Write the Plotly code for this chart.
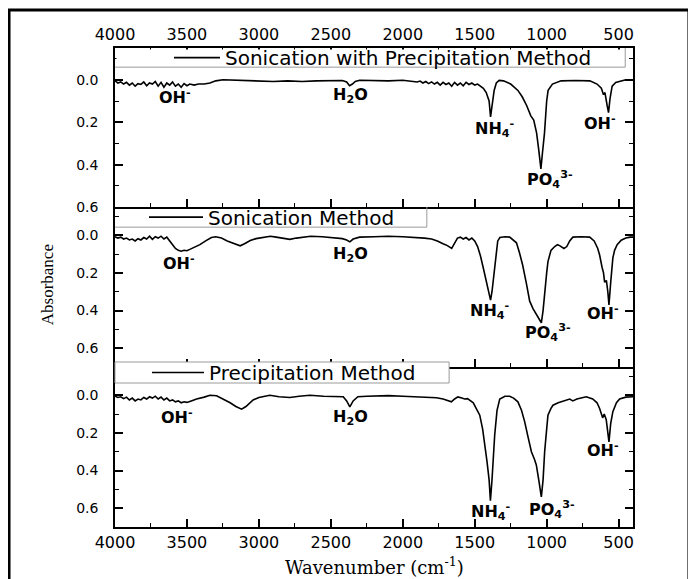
import plotly.graph_objects as go
from plotly.subplots import make_subplots

# ---------------- data ----------------
wn_sp = [4000, 3980, 3960, 3940, 3920, 3900, 3880, 3860, 3840, 3820, 3800, 3780, 3760, 3740, 3720, 3700,
         3680, 3660, 3640, 3620, 3600, 3580, 3560, 3540, 3520, 3500, 3480, 3450, 3420, 3380, 3340, 3300,
         3250, 3150, 3000, 2900, 2800, 2700, 2600, 2500, 2420, 2390, 2370, 2350, 2330, 2300, 2200, 2100,
         2000, 1950, 1900, 1880, 1860, 1840, 1820, 1800, 1780, 1760, 1740, 1720, 1700, 1680, 1660, 1640,
         1620, 1600, 1580, 1560, 1540, 1520, 1500, 1480, 1460, 1440, 1420, 1400, 1390, 1380, 1365, 1350,
         1330, 1300, 1250, 1200, 1170, 1140, 1110, 1090, 1070, 1055, 1040, 1030, 1015, 1000, 990, 960,
         930, 900, 800, 700, 650, 620, 605, 595, 580, 570, 560, 545, 520, 480, 450, 400]
abs_sp = [0.005, 0.015, 0.010, 0.020, 0.012, 0.025, 0.015, 0.030, 0.018, 0.022, 0.010, 0.028, 0.015, 0.020, 0.008, 0.030,
          0.012, 0.035, 0.015, 0.025, 0.010, 0.030, 0.020, 0.035, 0.018, 0.028, 0.020, 0.025, 0.020, 0.020, 0.015, 0.005,
          0.000, 0.002, 0.005, 0.008, 0.005, 0.008, 0.005, 0.002, 0.003, 0.010, 0.028, 0.020, 0.008, 0.002, 0.003, 0.005,
          0.002, 0.005, 0.010, 0.006, 0.015, 0.008, 0.018, 0.010, 0.020, 0.012, 0.025, 0.012, 0.022, 0.015, 0.030, 0.012,
          0.025, 0.015, 0.028, 0.012, 0.022, 0.015, 0.025, 0.020, 0.030, 0.040, 0.060, 0.100, 0.175, 0.120, 0.050, 0.015,
          0.003, 0.005, 0.020, 0.050, 0.080, 0.120, 0.170, 0.190, 0.250, 0.330, 0.420, 0.350, 0.250, 0.100, 0.050, 0.020,
          0.012, 0.005, 0.003, 0.005, 0.020, 0.040, 0.070, 0.060, 0.120, 0.155, 0.090, 0.030, 0.012, 0.005, 0.000, 0.000]

wn_s = [4000, 3980, 3960, 3940, 3920, 3900, 3880, 3860, 3840, 3820, 3800, 3780, 3760, 3740, 3720, 3700,
        3680, 3660, 3640, 3620, 3600, 3580, 3560, 3540, 3520, 3500, 3480, 3450, 3410, 3370, 3330, 3300,
        3260, 3220, 3170, 3130, 3100, 3060, 3020, 2960, 2920, 2880, 2830, 2785, 2740, 2690, 2640, 2560,
        2480, 2420, 2390, 2368, 2345, 2300, 2200, 2100, 2000, 1900, 1850, 1800, 1760, 1720, 1690, 1660,
        1640, 1620, 1600, 1580, 1560, 1540, 1520, 1500, 1480, 1460, 1440, 1420, 1400, 1390, 1380, 1370,
        1355, 1340, 1325, 1290, 1257, 1230, 1210, 1190, 1167, 1140, 1118, 1095, 1072, 1050, 1037, 1025,
        1014, 1000, 991, 970, 944, 925, 910, 880, 860, 840, 818, 760, 701, 670, 645, 632,
        615, 605, 597, 585, 575, 567, 555, 540, 528, 510, 482, 450, 420, 400]
abs_s = [0.008, 0.015, 0.010, 0.020, 0.015, 0.025, 0.020, 0.030, 0.018, 0.025, 0.012, 0.020, 0.005, 0.022, 0.008, 0.015,
         0.005, 0.020, 0.010, 0.030, 0.050, 0.070, 0.080, 0.085, 0.080, 0.082, 0.075, 0.065, 0.050, 0.030, 0.012, 0.008,
         0.015, 0.030, 0.045, 0.056, 0.045, 0.028, 0.018, 0.010, 0.005, 0.010, 0.018, 0.022, 0.015, 0.008, 0.005, 0.008,
         0.012, 0.018, 0.025, 0.035, 0.020, 0.010, 0.008, 0.005, 0.008, 0.010, 0.015, 0.020, 0.030, 0.045, 0.055, 0.070,
         0.040, 0.015, 0.010, 0.020, 0.012, 0.025, 0.015, 0.030, 0.060, 0.110, 0.175, 0.250, 0.320, 0.345, 0.300, 0.230,
         0.100, 0.030, 0.012, 0.008, 0.010, 0.025, 0.040, 0.090, 0.158, 0.260, 0.350, 0.390, 0.420, 0.450, 0.465, 0.400,
         0.300, 0.200, 0.140, 0.080, 0.060, 0.050, 0.055, 0.070, 0.060, 0.030, 0.010, 0.008, 0.010, 0.030, 0.070, 0.105,
         0.170, 0.200, 0.250, 0.240, 0.300, 0.370, 0.250, 0.120, 0.080, 0.050, 0.026, 0.015, 0.010, 0.010]

wn_p = [4000, 3980, 3960, 3940, 3920, 3900, 3880, 3860, 3840, 3820, 3800, 3780, 3760, 3740, 3720, 3700,
        3680, 3660, 3640, 3620, 3600, 3580, 3560, 3540, 3520, 3500, 3470, 3433, 3380, 3340, 3294, 3250,
        3200, 3160, 3120, 3090, 3060, 3040, 3000, 2950, 2924, 2860, 2785, 2720, 2646, 2550, 2450, 2414,
        2390, 2368, 2345, 2312, 2250, 2100, 2000, 1900, 1850, 1800, 1766, 1720, 1690, 1662, 1640, 1617,
        1590, 1570, 1550, 1535, 1510, 1490, 1465, 1445, 1431, 1415, 1400, 1391, 1380, 1370, 1361, 1345,
        1326, 1290, 1257, 1230, 1200, 1175, 1153, 1130, 1106, 1085, 1072, 1055, 1037, 1025, 1014, 1000,
        991, 970, 956, 920, 880, 840, 818, 790, 725, 680, 650, 632, 611, 600, 586, 575,
        567, 555, 540, 515, 493, 450, 400]
abs_p = [0.005, 0.012, 0.008, 0.018, 0.010, 0.025, 0.015, 0.030, 0.020, 0.025, 0.012, 0.020, 0.008, 0.015, 0.005, 0.020,
         0.010, 0.025, 0.015, 0.030, 0.025, 0.035, 0.030, 0.040, 0.035, 0.038, 0.030, 0.020, 0.010, 0.000, 0.003, 0.020,
         0.040, 0.060, 0.074, 0.060, 0.040, 0.025, 0.012, 0.005, 0.000, 0.008, 0.012, 0.005, 0.000, 0.005, 0.008, 0.008,
         0.030, 0.062, 0.030, 0.008, 0.005, 0.002, 0.005, 0.008, 0.010, 0.015, 0.013, 0.020, 0.030, 0.035, 0.020, 0.009,
         0.015, 0.020, 0.018, 0.027, 0.040, 0.070, 0.106, 0.180, 0.248, 0.350, 0.450, 0.560, 0.450, 0.300, 0.210, 0.080,
         0.020, 0.005, 0.005, 0.015, 0.035, 0.080, 0.140, 0.220, 0.300, 0.340, 0.370, 0.450, 0.540, 0.450, 0.300, 0.180,
         0.106, 0.070, 0.053, 0.040, 0.030, 0.020, 0.030, 0.020, 0.008, 0.020, 0.040, 0.070, 0.120, 0.100, 0.130, 0.200,
         0.248, 0.150, 0.087, 0.040, 0.020, 0.010, 0.008]

series_names = ["Sonication with Precipitation Method", "Sonication Method", "Precipitation Method"]
x_ticks = [4000, 3500, 3000, 2500, 2000, 1500, 1000, 500]
y_ticks = [0.0, 0.2, 0.4, 0.6]
y_ticktext = ["0.0", "0.2", "0.4", "0.6"]

# peak labels: (text, wavenumber, absorbance) per panel
labels_top = [("OH<sup>-</sup>", 3583, 0.08), ("H<sub>2</sub>O", 2361, 0.075), ("NH<sub>4</sub><sup>-</sup>", 1361, 0.23),
              ("PO<sub>4</sub><sup>3-</sup>", 979, 0.47), ("OH<sup>-</sup>", 632, 0.20)]
labels_mid = [("OH<sup>-</sup>", 3556, 0.147), ("H<sub>2</sub>O", 2361, 0.10), ("NH<sub>4</sub><sup>-</sup>", 1396, 0.40),
              ("PO<sub>4</sub><sup>3-</sup>", 993, 0.515), ("OH<sup>-</sup>", 611, 0.41)]
labels_bot = [("OH<sup>-</sup>", 3570, 0.112), ("H<sub>2</sub>O", 2361, 0.117), ("NH<sub>4</sub><sup>-</sup>", 1389, 0.615),
              ("PO<sub>4</sub><sup>3-</sup>", 965, 0.605), ("OH<sup>-</sup>", 611, 0.29)]

# ---------------- figure ----------------
SANS = "DejaVu Sans"
SERIF = "Liberation Serif"

fig = make_subplots(rows=3, cols=1, vertical_spacing=0)

fig.add_trace(go.Scatter(x=wn_sp, y=abs_sp, mode="lines", name=series_names[0],
                         line=dict(color="black", width=1.6), legend="legend"), row=1, col=1)
fig.add_trace(go.Scatter(x=wn_s, y=abs_s, mode="lines", name=series_names[1],
                         line=dict(color="black", width=1.6), legend="legend2"), row=2, col=1)
fig.add_trace(go.Scatter(x=wn_p, y=abs_p, mode="lines", name=series_names[2],
                         line=dict(color="black", width=1.6), legend="legend3"), row=3, col=1)

xcommon = dict(range=[4000, 400], tickvals=x_ticks, ticks="inside", ticklen=8, tickwidth=1.5,
               tickcolor="black", showline=True, linecolor="black", linewidth=1.5, showgrid=False,
               zeroline=False, tickfont=dict(family=SANS, size=16, color="black"),
               minor=dict(ticks="inside", ticklen=4, tickwidth=1.2, dtick=250, tick0=0, tickcolor="black"))
ycommon = dict(tickvals=y_ticks, ticktext=y_ticktext, ticks="inside", ticklen=8, tickwidth=1.5,
               tickcolor="black", showline=True, linecolor="black", linewidth=1.5, showgrid=False,
               zeroline=False, mirror="ticks", ticklabelstandoff=12,
               tickfont=dict(family=SANS, size=14, color="black"),
               minor=dict(ticks="inside", ticklen=4, tickwidth=1.2, tickvals=[-0.1, 0.1, 0.3, 0.5],
                          tickcolor="black"))

fig.update_layout(
    xaxis=dict(**xcommon, side="top", mirror="ticks", ticklabelstandoff=0),
    xaxis2=dict(**xcommon, showticklabels=False, mirror=False),
    xaxis3=dict(**xcommon, mirror=False, ticklabelstandoff=0),
    yaxis=dict(**ycommon, range=[0.6, -0.15], domain=[0.668, 1.0]),
    yaxis2=dict(**ycommon, range=[0.7, -0.15], domain=[0.334, 0.668]),
    yaxis3=dict(**ycommon, range=[0.7, -0.15], domain=[0.0, 0.334]),
)

# legend boxes
gray = dict(color="#9a9a9a", width=1)
# top box: white cover plus gray bottom/right edges
fig.add_shape(type="rect", xref="paper", yref="paper", x0=0.003, x1=0.985, y0=0.960, y1=0.997,
              line=dict(width=0), fillcolor="white", layer="above")
fig.add_shape(type="path", xref="paper", yref="paper", path="M 0,0.960 L 0.985,0.960 L 0.985,1.0",
              line=gray, layer="above")
# middle box: gray bottom/right edges (top edge is the panel boundary)
fig.add_shape(type="path", xref="paper", yref="paper", path="M 0,0.626 L 0.602,0.626 L 0.602,0.668",
              line=gray, layer="above")
# bottom box: opaque white box with gray frame, straddling the panel boundary
fig.add_shape(type="rect", xref="paper", yref="paper", x0=0.0, x1=0.645, y0=0.3006, y1=0.3445,
              line=gray, fillcolor="white", layer="above")

leg = dict(bgcolor="rgba(0,0,0,0)", borderwidth=0, xanchor="left", yanchor="middle",
           font=dict(family=SANS, size=20, color="black"), tracegroupgap=0)
fig.update_layout(
    legend=dict(**leg, x=0.1042, y=0.980, itemwidth=46),
    legend2=dict(**leg, x=0.056, y=0.647, itemwidth=54),
    legend3=dict(**leg, x=0.0618, y=0.3225, itemwidth=52),
)

# peak annotations
for labs, xr, yr in [(labels_top, "x", "y"), (labels_mid, "x2", "y2"), (labels_bot, "x3", "y3")]:
    for txt, xv, yv in labs:
        fig.add_annotation(x=xv, y=yv, xref=xr, yref=yr, text="<b>" + txt + "</b>", showarrow=False,
                           font=dict(family=SANS, size=16, color="black"), xanchor="center", yanchor="middle")

# axis titles
fig.add_annotation(x=-0.131, y=0.505, xref="paper", yref="paper", text="Absorbance", textangle=-90,
                   xanchor="center", yanchor="middle",
                   showarrow=False, font=dict(family=SERIF, size=17, color="black"))
fig.add_annotation(x=0.5, y=-0.0814, xref="paper", yref="paper", text="Wavenumber (cm<sup>-1</sup>)",
                   xanchor="center", yanchor="middle",
                   showarrow=False, font=dict(family="DejaVu Serif", size=18, color="black"))

# outer black frame
fig.add_shape(type="rect", xref="paper", yref="paper", x0=-0.2046, x1=1.108, y0=-0.2, y1=1.0793,
              line=dict(color="black", width=3), fillcolor="rgba(0,0,0,0)", layer="above")

# the page body adds an 8px offset; size the figure so it fits the window exactly
fig.update_layout(width=688, height=571, margin=dict(l=107, r=63, t=40, b=52),
                  paper_bgcolor="white", plot_bgcolor="white", showlegend=True)

fig.write_html("out.html")
